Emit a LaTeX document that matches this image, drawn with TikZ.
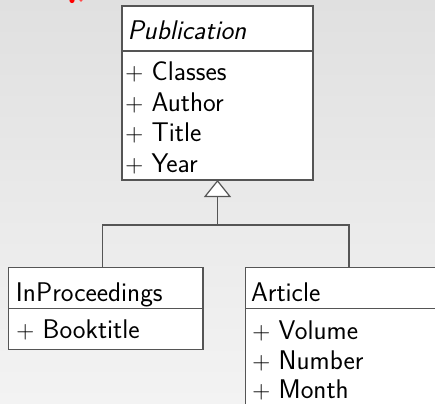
\documentclass[tikz,border=0pt]{standalone}
\usepackage{fontspec}
\usetikzlibrary{arrows.meta}
\definecolor{bgtop}{HTML}{E0E0E0}
\definecolor{bgbot}{HTML}{F3F3F3}
\definecolor{edge}{HTML}{555555}
\begin{document}
\begin{tikzpicture}[x=1pt,y=-1pt,
  compart/.style={draw=edge, line width=1.2pt, fill=white, anchor=north west, inner sep=0pt, outer sep=0pt},
  lbl/.style={anchor=base west, inner sep=0pt, outer sep=0pt, font=\fontsize{27}{31}\selectfont\sffamily},
  conn/.style={draw=edge, line width=1.2pt},
]
\useasboundingbox (0,0) rectangle (435,403);
\clip (0,0) rectangle (435,403);
\shade[top color=bgtop, bottom color=bgbot] (0,0) rectangle (435,403);
\fill[red] (72,0.5) circle (2.6);
\fill[red!70] (81,0.3) circle (1.6);
% Publication
\node[compart, minimum width=191pt, minimum height=45pt] (pubname) at (122,6) {};
\node[compart, minimum width=191pt, minimum height=129pt] (pubattr) at (122,51) {};
\node[lbl] (tpub) at (127.5,40) {\itshape Publication};
\node[lbl] (ta1) at (125.3,81) {$+$ Classes};
\node[lbl] (ta2) at (125.3,111.5) {$+$ Author};
\node[lbl] (ta3) at (125.3,142) {$+$ Title};
\node[lbl] (ta4) at (125.3,172) {$+$ Year};
% InProceedings
\node[compart, minimum width=194.7pt, minimum height=41pt] (inpname) at (8.3,267.3) {};
\node[compart, minimum width=194.7pt, minimum height=41pt] (inpattr) at (8.3,308.3) {};
\node[lbl] (tinp) at (16,301) {InProceedings};
\node[lbl] (tb1) at (16.3,338) {$+$ Booktitle};
% Article
\node[compart, minimum width=250pt, minimum height=41pt] (artname) at (245.7,267.5) {};
\node[compart, minimum width=250pt, minimum height=150pt] (artattr) at (245.7,308.5) {};
\node[lbl] (tart) at (251,301) {Article};
\node[lbl] (tv1) at (252.3,339) {$+$ Volume};
\node[lbl] (tv2) at (252.3,369) {$+$ Number};
\node[lbl] (tv3) at (252.3,398.5) {$+$ Month};
% generalization connectors
\coordinate (jm) at (217.5,225);
\coordinate (jl) at (102.7,225);
\coordinate (jr) at (349,225);
\draw[conn, -{Triangle[width=27pt,length=17pt,fill=white]}] (jm) -- (pubattr.south);
\draw[conn] (inpname.north -| jl) -- (jl) -- (jr) -- (artname.north -| jr);
\end{tikzpicture}
\end{document}
